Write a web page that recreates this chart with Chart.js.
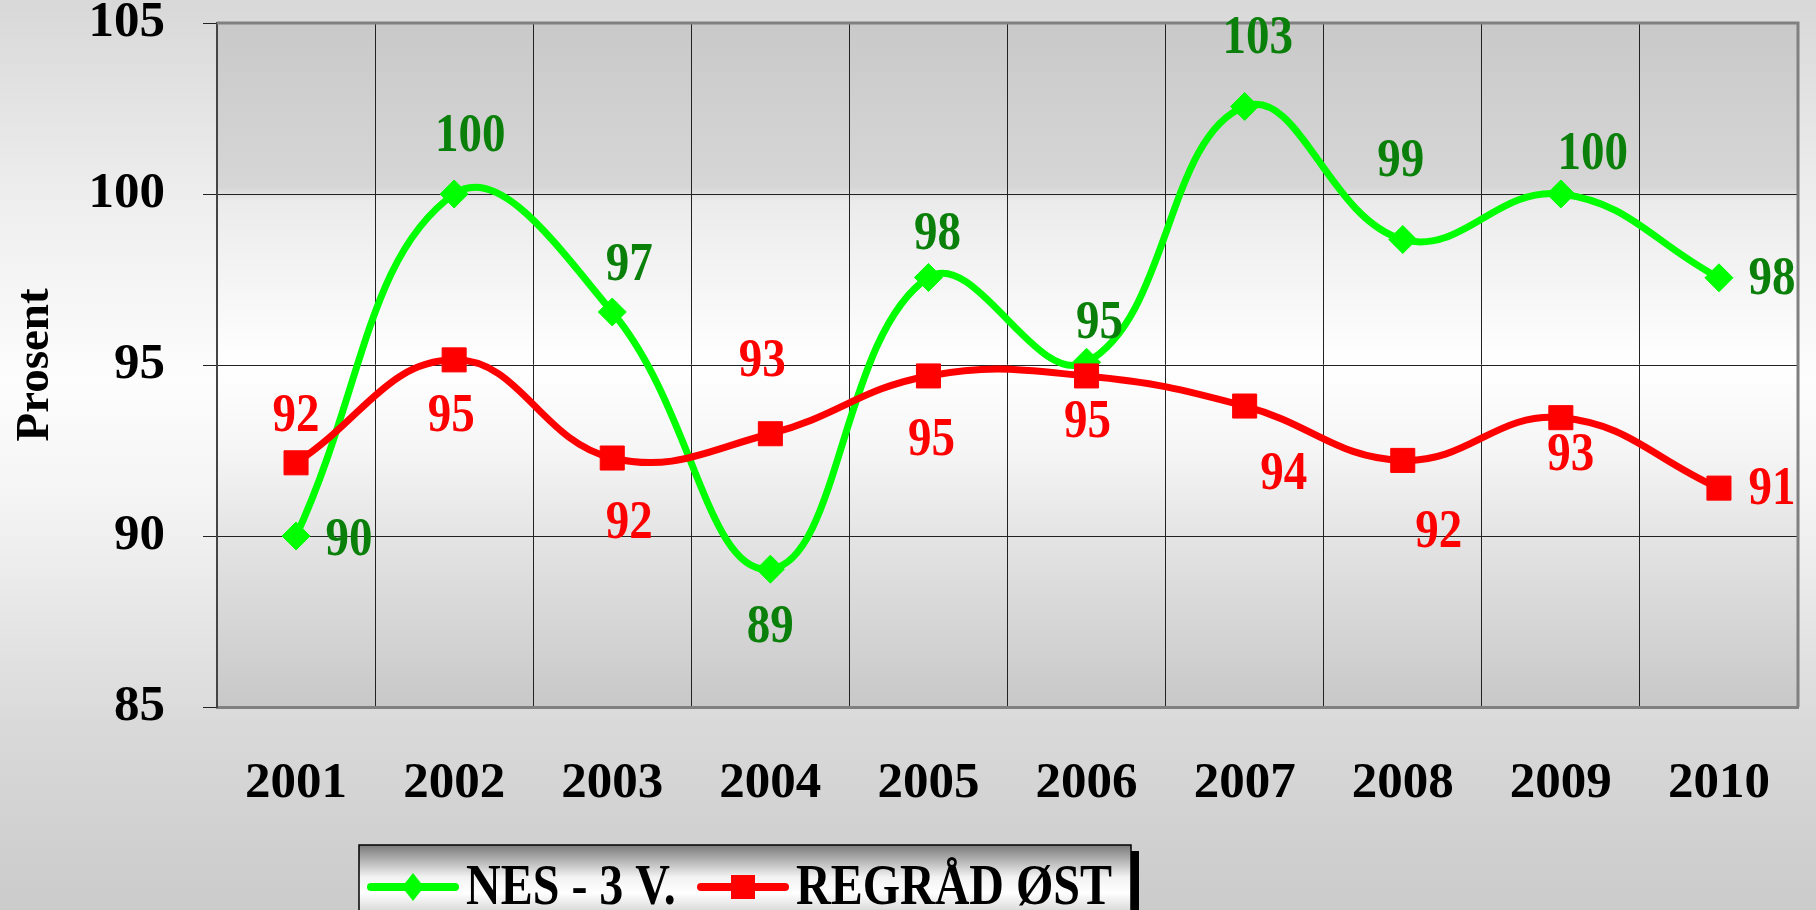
<!DOCTYPE html>
<html>
<head>
<meta charset="utf-8">
<script src="https://cdn.jsdelivr.net/npm/chart.js@4.4.1/dist/chart.umd.min.js"></script>
<style>
  html, body { margin: 0; padding: 0; background: #fff; }
  #wrap { width: 1816px; height: 910px; }
</style>
</head>
<body>
<div id="wrap"><canvas id="c" width="1816" height="910"></canvas></div>
<script>
// ---- data ----
const years = ['2001', '2002', '2003', '2004', '2005', '2006', '2007', '2008', '2009', '2010'];
const nesName = 'NES - 3 V.';
const nesValues = [90.0, 100.0, 96.55, 89.03, 97.56, 95.08, 102.56, 98.67, 100.0, 97.55];
const regradName = 'REGRÅD ØST';
const regradValues = [92.14, 95.15, 92.28, 92.99, 94.68, 94.68, 93.8, 92.21, 93.46, 91.4];
const yTickValues = [85, 90, 95, 100, 105];
const yTitle = 'Prosent';

// ---- label placement (px offsets from the point) ----
const nesLabelOffsets = [[53, 5], [16, -57], [17, -46], [0, 59], [9, -43], [13, -39], [13, -68], [-2, -78], [32, -39], [53, 2]];
const regradLabelOffsets = [[0, -46], [-3, 57], [17, 66], [-8, -72], [3, 65], [1, 47], [39, 69], [36, 72], [10, 38], [53, 2]];

const FONT = "'Liberation Serif', 'Times New Roman', serif";
const GREEN = '#00ff00';
const GREEN_TEXT = '#0a800a';
const RED = '#ff0000';
const STRETCH = 1.18;

function tallText(ctx, text, x, y, align) {
  ctx.save();
  ctx.translate(x, y);
  ctx.scale(1, STRETCH);
  ctx.textAlign = align;
  ctx.textBaseline = 'middle';
  ctx.fillText(text, 0, 0);
  ctx.restore();
}

const deco = {
  id: 'deco',
  beforeDraw(chart) {
    const { ctx, width, height, chartArea: a } = chart;
    ctx.save();
    const g = ctx.createLinearGradient(0, 0, 0, height);
    g.addColorStop(0, '#d8d8d8');
    g.addColorStop(0.22, '#eeeeee');
    g.addColorStop(0.42, '#fdfdfd');
    g.addColorStop(0.55, '#f4f4f4');
    g.addColorStop(0.8, '#d9d9d9');
    g.addColorStop(1, '#cbcbcb');
    ctx.fillStyle = g;
    ctx.fillRect(0, 0, width, height);
    const p = ctx.createLinearGradient(0, a.top, 0, a.bottom);
    p.addColorStop(0, '#c9c9c9');
    p.addColorStop(0.24, '#d6d6d6');
    p.addColorStop(0.26, '#ebebeb');
    p.addColorStop(0.5, '#ffffff');
    p.addColorStop(0.62, '#f6f6f6');
    p.addColorStop(0.75, '#e4e4e4');
    p.addColorStop(1, '#c8c8c8');
    ctx.fillStyle = p;
    ctx.fillRect(a.left, a.top, a.right - a.left, a.bottom - a.top);
    ctx.restore();
  },
  beforeDatasetsDraw(chart) {
    const { ctx, chartArea: a } = chart;
    ctx.save();
    ctx.strokeStyle = '#808080';
    ctx.lineWidth = 3;
    ctx.beginPath();
    ctx.moveTo(a.left, a.top);
    ctx.lineTo(a.right, a.top);
    ctx.lineTo(a.right, a.bottom);
    ctx.stroke();
    ctx.restore();
  },
  afterDatasetsDraw(chart) {
    const { ctx } = chart;
    const offs = [nesLabelOffsets, regradLabelOffsets];
    const cols = [GREEN_TEXT, RED];
    ctx.save();
    ctx.font = 'bold 47px ' + FONT;
    chart.data.datasets.forEach((ds, i) => {
      const meta = chart.getDatasetMeta(i);
      ctx.fillStyle = cols[i];
      meta.data.forEach((pt, j) => {
        const [dx, dy] = offs[i][j];
        tallText(ctx, String(Math.round(ds.data[j])), pt.x + dx, pt.y + dy, 'center');
      });
    });
    ctx.restore();
  },
  afterDraw(chart) {
    const { ctx } = chart;
    const x = 359, y = 845, w = 772, h = 80;
    ctx.save();
    ctx.fillStyle = '#000';
    ctx.fillRect(x + w, y + 6, 8, h);
    const g = ctx.createLinearGradient(0, y, 0, y + h);
    g.addColorStop(0, '#7a7a7a');
    g.addColorStop(0.4, '#f2f2f2');
    g.addColorStop(0.6, '#ffffff');
    g.addColorStop(1, '#bdbdbd');
    ctx.fillStyle = g;
    ctx.fillRect(x, y, w, h);
    ctx.strokeStyle = '#000';
    ctx.lineWidth = 1.5;
    ctx.strokeRect(x, y, w, h);

    const cy = 887;
    const items = [
      { lx: 371, color: GREEN, style: 'diamond', tx: 466, label: chart.data.datasets[0].label },
      { lx: 701, color: RED, style: 'square', tx: 796, label: chart.data.datasets[1].label }
    ];
    items.forEach(it => {
      ctx.strokeStyle = it.color;
      ctx.lineWidth = 8;
      ctx.lineCap = 'round';
      ctx.beginPath();
      ctx.moveTo(it.lx, cy);
      ctx.lineTo(it.lx + 84, cy);
      ctx.stroke();
      ctx.fillStyle = it.color;
      const mx = it.lx + 42;
      if (it.style === 'diamond') {
        ctx.beginPath();
        ctx.moveTo(mx, cy - 14);
        ctx.lineTo(mx + 11, cy);
        ctx.lineTo(mx, cy + 14);
        ctx.lineTo(mx - 11, cy);
        ctx.closePath();
        ctx.fill();
      } else {
        ctx.fillRect(mx - 12, cy - 12, 24, 24);
      }
      ctx.fillStyle = '#000';
      ctx.font = 'bold 48px ' + FONT;
      tallText(ctx, it.label, it.tx, cy + 2, 'left');
    });
    ctx.restore();
  }
};

new Chart(document.getElementById('c'), {
  type: 'line',
  data: {
    labels: years,
    datasets: [
      {
        label: nesName,
        data: nesValues,
        borderColor: GREEN,
        backgroundColor: GREEN,
        borderWidth: 7,
        tension: 0.42,
        pointStyle: 'rectRot',
        pointRadius: 14,
        pointHoverRadius: 14,
        pointBackgroundColor: GREEN,
        pointBorderColor: GREEN,
        pointBorderWidth: 1,
        fill: false,
        order: 1
      },
      {
        label: regradName,
        data: regradValues,
        borderColor: RED,
        backgroundColor: RED,
        borderWidth: 7,
        tension: 0.42,
        pointStyle: 'rect',
        pointRadius: 17,
        pointHoverRadius: 17,
        pointBackgroundColor: RED,
        pointBorderColor: RED,
        pointBorderWidth: 1,
        fill: false,
        order: 0
      }
    ]
  },
  options: {
    responsive: false,
    devicePixelRatio: 1,
    animation: false,
    events: [],
    layout: { padding: { top: 23, right: 13, left: 0, bottom: 0 } },
    plugins: {
      legend: { display: false },
      tooltip: { enabled: false },
      title: { display: false }
    },
    scales: {
      x: {
        type: 'category',
        offset: true,
        grid: {
          display: true,
          offset: true,
          color: '#222',
          lineWidth: 1,
          drawTicks: false
        },
        border: { display: true, color: '#808080', width: 3 },
        ticks: {
          color: '#000',
          padding: 46,
          font: { family: FONT, size: 51, weight: 'bold' },
          maxRotation: 0,
          autoSkip: false
        },
        afterFit(scale) { scale.height = 203; scale.paddingLeft = 0; scale.paddingRight = 0; }
      },
      y: {
        min: 85,
        max: 105,
        afterBuildTicks(scale) { scale.ticks = yTickValues.map(v => ({ value: v })); },
        grid: {
          color: '#222',
          lineWidth: 1,
          drawTicks: true,
          tickLength: 14,
          tickColor: '#222'
        },
        border: { display: true, color: '#444', width: 2 },
        ticks: {
          color: '#000',
          padding: 38,
          font: { family: FONT, size: 51, weight: 'bold' }
        },
        title: {
          display: true,
          text: yTitle,
          color: '#000',
          font: { family: FONT, size: 47, weight: 'bold' },
          padding: { top: 8, bottom: 0 }
        },
        afterFit(scale) { scale.width = 217; scale.paddingTop = 0; scale.paddingBottom = 0; }
      }
    }
  },
  plugins: [deco]
});
</script>
